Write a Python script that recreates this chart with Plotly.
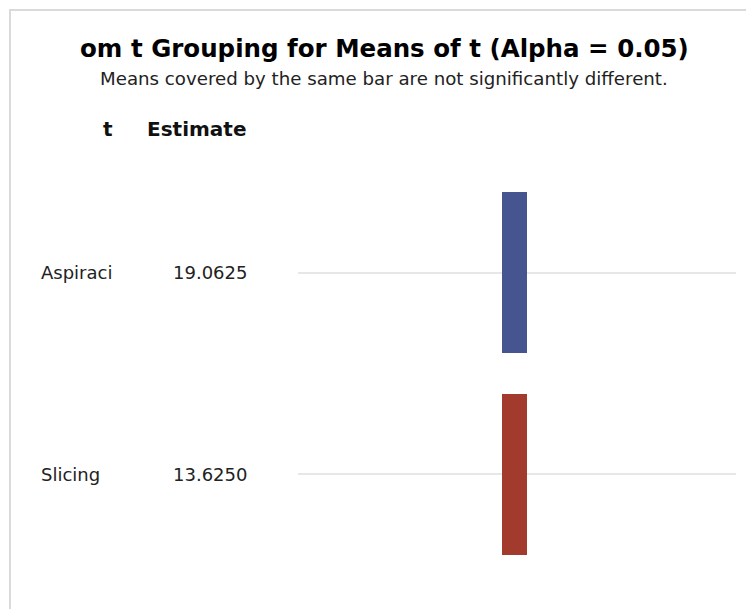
import plotly.graph_objects as go

# Treatment means and grouping for the lines display
treatments = ["Aspiraci", "Slicing"]
estimates = [19.0625, 13.6250]
# Each grouping bar covers the treatments whose means do not differ
group_members = [["Aspiraci"], ["Slicing"]]
group_colors = ["#46558f", "#a23a2e"]

title_text = "om t Grouping for Means of t (Alpha = 0.05)"
subtitle_text = "Means covered by the same bar are not significantly different."
col_headers = ["t", "Estimate"]

FONT = "DejaVu Sans"
W, H = 746, 609
L, R, T, B = 298, 10, 172, 34
pw, ph = W - L - R, H - T - B


def px_x(px):
    return (px - L) / pw


def px_y(py):
    return (H - B - py) / ph


row_of = {name: i for i, name in enumerate(treatments)}

fig = go.Figure()

for members, color in zip(group_members, group_colors):
    rows = [row_of[m] for m in members]
    lo, hi = min(rows), max(rows)
    fig.add_trace(go.Bar(
        x=[0.5], y=[hi - lo + 0.8], base=[lo - 0.4], width=0.057,
        marker=dict(color=color, line=dict(width=0)),
        showlegend=False, hoverinfo="skip",
    ))

annotations = []
# table body: treatment names and estimates
for name, est in zip(treatments, estimates):
    r = row_of[name]
    annotations.append(dict(
        x=px_x(39), y=r, xref="paper", yref="y", text=name,
        xanchor="left", yanchor="middle", showarrow=False,
        font=dict(family=FONT, size=18, color="#222222"),
    ))
    annotations.append(dict(
        x=px_x(249), y=r, xref="paper", yref="y", text=f"{est:.4f}",
        xanchor="right", yanchor="middle", showarrow=False,
        font=dict(family=FONT, size=18, color="#222222"),
    ))

# column headers
for text, cx in zip(col_headers, [107.5, 196]):
    annotations.append(dict(
        x=px_x(cx), y=px_y(129), xref="paper", yref="paper", text=f"<b>{text}</b>",
        xanchor="center", yanchor="middle", showarrow=False,
        font=dict(family=FONT, size=20, color="#111111"),
    ))

# title and subtitle
annotations.append(dict(
    x=px_x(384), y=px_y(49), xref="paper", yref="paper", text=f"<b>{title_text}</b>",
    xanchor="center", yanchor="middle", showarrow=False,
    font=dict(family=FONT, size=24.5, color="#000000"),
))
annotations.append(dict(
    x=px_x(384), y=px_y(78), xref="paper", yref="paper", text=subtitle_text,
    xanchor="center", yanchor="middle", showarrow=False,
    font=dict(family=FONT, size=18.2, color="#222222"),
))

fig.update_layout(
    width=W, height=H, autosize=False,
    margin=dict(l=L, r=R, t=T, b=B, pad=0),
    paper_bgcolor="white", plot_bgcolor="white",
    annotations=annotations,
    shapes=[dict(
        type="rect", xref="paper", yref="paper",
        x0=px_x(10), x1=px_x(780), y0=px_y(640), y1=px_y(10),
        line=dict(color="#dadada", width=2), fillcolor="rgba(0,0,0,0)",
        layer="below",
    )],
    xaxis=dict(range=[0.005, 1.005], visible=False, fixedrange=True),
    yaxis=dict(
        range=[1.5, -0.5], tickvals=list(range(len(treatments))),
        showticklabels=False, showgrid=True, gridcolor="#e6e7e8", gridwidth=2,
        zeroline=False, showline=False, ticks="", fixedrange=True,
    ),
    barmode="overlay",
    bargap=0,
)

fig.write_html("out.html")
